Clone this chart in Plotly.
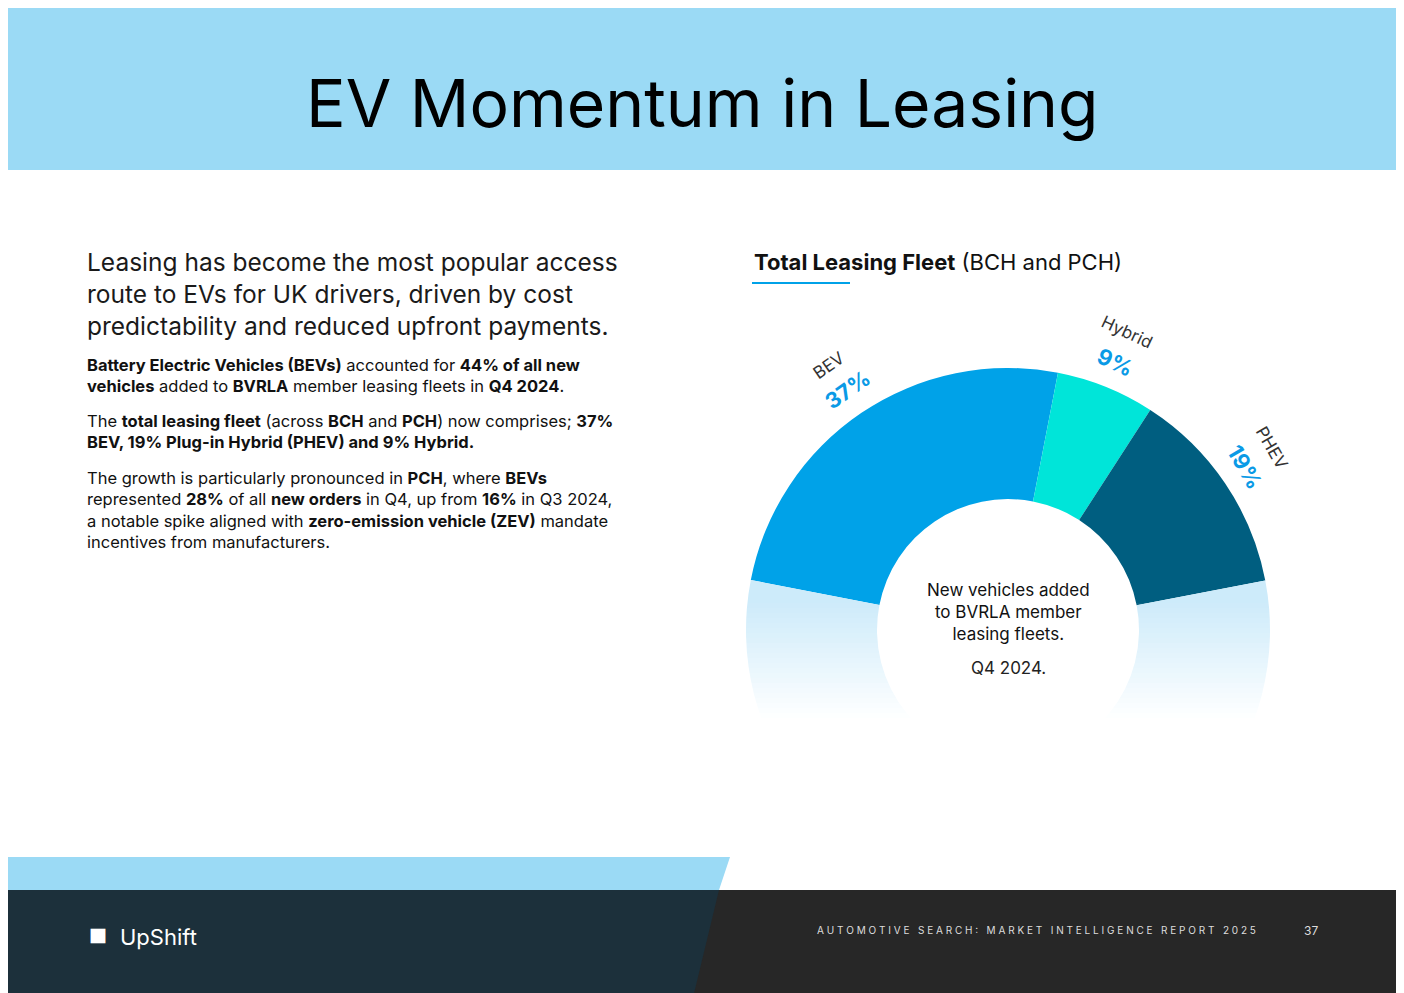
import plotly.graph_objects as go

W, H = 1404, 993
OFF = 8  # page margin of the html body

# data
segments = ["BEV", "Hybrid", "PHEV"]
shares = [37, 9, 19]
colors = ["#00A2E8", "#00E5D9", "#005E80"]
hidden_share = 83  # part of the ring below the horizon


def px(x):
    return (x - OFF) / W


def py(y):
    return 1 - (y - OFF) / H


fig = go.Figure()

fig.add_trace(go.Pie(
    labels=segments + ["rest"],
    values=shares + [hidden_share],
    marker=dict(colors=colors + ["#CDEBFA"], line=dict(width=0)),
    hole=0.5,
    sort=False,
    direction="clockwise",
    rotation=-79,
    textinfo="none",
    hoverinfo="label+value",
    showlegend=False,
    domain=dict(x=[px(746), px(1270)], y=[py(892), py(368)]),
))

shapes = []
# header band
shapes.append(dict(type="rect", xref="paper", yref="paper", x0=-0.02, x1=1.02,
                   y0=py(170), y1=1.02, fillcolor="#9BDAF5", line_width=0, layer="below"))
# fade the lower part of the ring into white
steps = 24
for i in range(steps):
    y0 = 603 + i * 5
    shapes.append(dict(type="rect", xref="paper", yref="paper",
                       x0=px(738), x1=px(1280), y0=py(y0 + 5), y1=py(y0),
                       fillcolor="white", opacity=(i + 1) / steps, line_width=0, layer="above"))
shapes.append(dict(type="rect", xref="paper", yref="paper", x0=px(738), x1=px(1280),
                   y0=py(905), y1=py(723), fillcolor="white", line_width=0, layer="above"))
# footer
shapes.append(dict(type="path", xref="paper", yref="paper",
                   path=f"M {px(-10)} {py(857)} L {px(730)} {py(857)} L {px(719)} {py(890)} L {px(-10)} {py(890)} Z",
                   fillcolor="#9BDAF5", line_width=0, layer="above"))
shapes.append(dict(type="rect", xref="paper", yref="paper", x0=px(-10), x1=1.02,
                   y0=py(1010), y1=py(890), fillcolor="#272727", line_width=0, layer="above"))
shapes.append(dict(type="path", xref="paper", yref="paper",
                   path=f"M {px(-10)} {py(890)} L {px(719)} {py(890)} L {px(690)} {py(1010)} L {px(-10)} {py(1010)} Z",
                   fillcolor="#1C303B", line_width=0, layer="above"))
# chart title underline
shapes.append(dict(type="line", xref="paper", yref="paper", x0=px(752), x1=px(850),
                   y0=py(283), y1=py(283), line=dict(color="#00A2E8", width=2)))

ann = []


def text(x, y, s, size, color="#111111", xanchor="left", angle=0, align="left", family="Inter"):
    ann.append(dict(xref="paper", yref="paper", x=px(x), y=py(y), text=s, showarrow=False,
                    xanchor=xanchor, yanchor="middle", textangle=angle, align=align,
                    font=dict(size=size, color=color, family=family)))


text(702, 103, "EV Momentum in Leasing", 66, "#000000", xanchor="center")

text(85, 294, "Leasing has become the most popular access<br>route to EVs for UK drivers, driven by cost<br>"
     "predictability and reduced upfront payments.", 24.5, "#1a1a1a")
text(85, 375, "<b>Battery Electric Vehicles (BEVs)</b> accounted for <b>44% of all new</b><br>"
     "<b>vehicles</b> added to <b>BVRLA</b> member leasing fleets in <b>Q4 2024</b>.", 16.5)
text(85, 432, "The <b>total leasing fleet</b> (across <b>BCH</b> and <b>PCH</b>) now comprises; <b>37%</b><br>"
     "<b>BEV, 19% Plug-in Hybrid (PHEV) and 9% Hybrid.</b>", 16.5)
text(85, 510, "The growth is particularly pronounced in <b>PCH</b>, where <b>BEVs</b><br>"
     "represented <b>28%</b> of all <b>new orders</b> in Q4, up from <b>16%</b> in Q3 2024,<br>"
     "a notable spike aligned with <b>zero-emission vehicle (ZEV)</b> mandate<br>"
     "incentives from manufacturers.", 16.5)

text(752, 262, "<b>Total Leasing Fleet</b> (BCH and PCH)", 22)

# segment labels
text(829, 365, "BEV", 17, "#333333", xanchor="center", angle=-35)
text(847, 390, "<b>37%</b>", 22, "#0A9AE6", xanchor="center", angle=-35)
text(1127, 332, "Hybrid", 17, "#333333", xanchor="center", angle=25)
text(1115, 362, "<b>9%</b>", 22, "#0A9AE6", xanchor="center", angle=25)
text(1272, 448, "PHEV", 17, "#333333", xanchor="center", angle=60)
text(1245, 467, "<b>19%</b>", 22, "#0A9AE6", xanchor="center", angle=60)

text(1008, 612, "New vehicles added<br>to BVRLA member<br>leasing fleets.", 17, "#111111",
     xanchor="center", align="center")
text(1008, 668, "Q4 2024.", 17, "#222222", xanchor="center")

# footer text
text(118, 937, "UpShift", 22, "#ffffff")
text(98, 937, "<b>⯀</b>", 20, "#ffffff", xanchor="center")
text(1258, 930, "A U T O M O T I V E   S E A R C H :   M A R K E T   I N T E L L I G E N C E   R E P O R T   2 0 2 5",
     10, "#dddddd", xanchor="right")
text(1311, 930, "37", 12, "#dddddd", xanchor="center")

fig.update_layout(
    width=W, height=H,
    margin=dict(l=0, r=0, t=0, b=0),
    paper_bgcolor="white",
    plot_bgcolor="white",
    shapes=shapes,
    annotations=ann,
)

fig.write_html("out.html")
